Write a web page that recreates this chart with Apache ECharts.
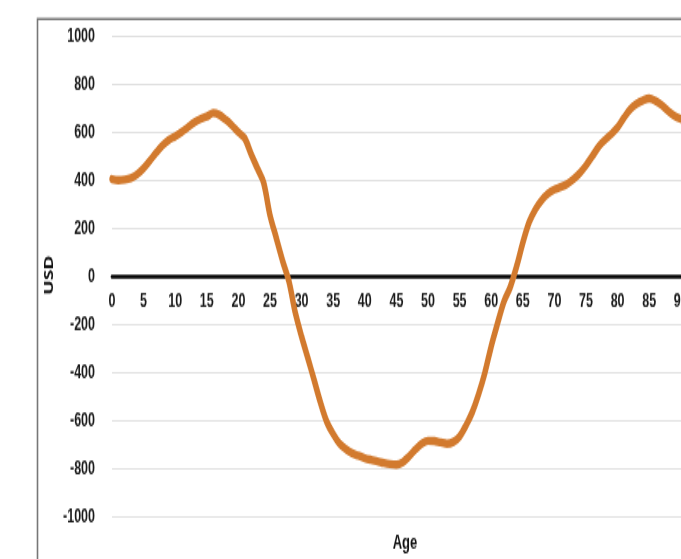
<!DOCTYPE html>
<html><head><meta charset="utf-8">
<script src="https://cdn.jsdelivr.net/npm/echarts@6/dist/echarts.min.js"></script>
<style>
html,body{margin:0;padding:0;background:#fff;overflow:hidden}
#wrap{width:681px;height:559px;overflow:hidden;position:relative}
#c{width:681px;height:360.65px;transform:scaleY(1.55);transform-origin:0 0}
</style>
</head><body><div id="wrap"><div id="c"></div></div>
<script>
var ages = [];
for (var a = 0; a <= 90; a++) ages.push(a);
var usd = [405,400,403,410,425,450,482,515,545,568,
           583,600,620,640,655,665,680,672,652,628,
           600,575,510,450,390,255,160,65,-20,-150,
           -250,-340,-432,-525,-605,-655,-695,-718,-735,-745,
           -755,-762,-768,-775,-780,-782,-772,-748,-720,-695,
           -683,-684,-690,-695,-688,-665,-620,-565,-490,-400,
           -290,-195,-105,-45,40,140,225,280,318,345,
           362,372,385,405,430,462,500,540,568,592,
           620,660,695,718,732,740,730,712,688,668,655];
var yTicks = [-1000,-800,-600,-400,-200,0,200,400,600,800,1000];
var xTicks = [0,5,10,15,20,25,30,35,40,45,50,55,60,65,70,75,80,85,90,95,100];

var S = 1.55; // vertical stretch of the original picture
var font = "'Liberation Sans',Arial,sans-serif";
var chart = echarts.init(document.getElementById('c'));
chart.setOption({
  animation: false,
  grid: {left: 112, top: 36 / S, height: 481 / S, width: 632, containLabel: false, outerBoundsMode: 'none'},
  xAxis: {
    type: 'value', min: xTicks[0], max: xTicks[xTicks.length-1], interval: 5,
    offset: -(481 / 2) / S,
    axisLine: {onZero: false, lineStyle: {color: '#000', width: 2.6}},
    axisTick: {show: false},
    splitLine: {show: false},
    axisLabel: {margin: 10, color: '#1a1a1a', fontFamily: font, fontWeight: 'bold', fontSize: 12.5}
  },
  yAxis: {
    type: 'value', min: yTicks[0], max: yTicks[yTicks.length-1], interval: 200,
    axisLine: {show: false}, axisTick: {show: false},
    splitLine: {lineStyle: {color: '#e0e0e0', width: 1}},
    axisLabel: {margin: 17, color: '#1a1a1a', fontFamily: font, fontWeight: 'bold', fontSize: 12.5,
                formatter: function(v){ return String(v); }}
  },
  graphic: [
    {type: 'rect', left: 35, top: 15 / S, shape: {width: 700, height: 600},
     style: {fill: 'none', stroke: '#777', lineWidth: 1.6}, z: -1},
    {type: 'text', x: 49, y: 275 / S, rotation: Math.PI / 2,
     style: {text: 'USD', fill: '#111', font: "bold 12.5px 'Open Sans',sans-serif", align: 'center', verticalAlign: 'middle'}},
    {type: 'text', x: 405, y: 543 / S,
     style: {text: 'Age', fill: '#111', font: "bold 13px " + font, align: 'center', verticalAlign: 'middle'}}
  ],
  series: [{
    type: 'line', data: ages.map(function(a, i){ return [a, usd[i]]; }),
    showSymbol: false, smooth: 0.3,
    lineStyle: {color: '#d27a2e', width: 5.4, cap: 'round'}
  }]
});
</script></body></html>
